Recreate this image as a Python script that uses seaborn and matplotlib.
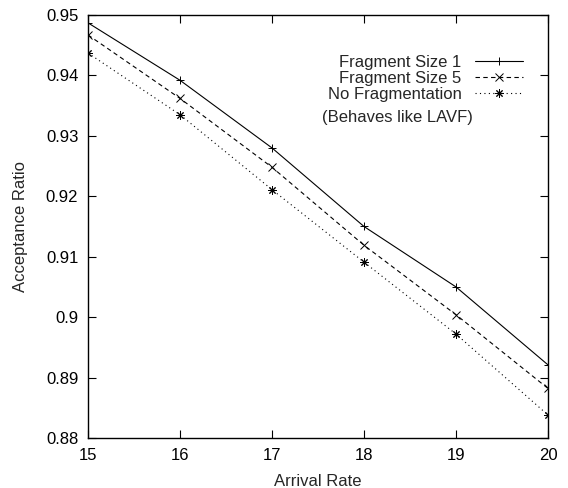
import pandas as pd
import matplotlib
matplotlib.use("Agg")
import matplotlib.pyplot as plt
from matplotlib.ticker import FormatStrFormatter
import seaborn as sns

# data
arrival_rate = [15, 16, 17, 18, 19, 20]
frag_size_1 = [0.9487, 0.9392, 0.9280, 0.9150, 0.9050, 0.8921]
frag_size_5 = [0.9467, 0.9362, 0.9248, 0.9119, 0.9004, 0.8882]
no_frag = [0.9437, 0.9335, 0.9211, 0.9091, 0.8972, 0.8838]
series_names = ["Fragment Size 1", "Fragment Size 5", "No Fragmentation"]

frames = []
for name, vals in zip(series_names, [frag_size_1, frag_size_5, no_frag]):
    frames.append(pd.DataFrame({"rate": arrival_rate, "ratio": vals, "series": name}))
df = pd.concat(frames, ignore_index=True)

sns.set_theme(style="ticks")
plt.rcParams["font.family"] = ["Liberation Sans", "DejaVu Sans"]
plt.rcParams["xtick.direction"] = "in"
plt.rcParams["ytick.direction"] = "in"

fig = plt.figure(figsize=(5.68, 4.88), dpi=100)
# plot box: x 88..548 px, y 15..438 px
ax = fig.add_axes([88 / 568, 1 - 438 / 488, 460 / 568, 423 / 488])

sns.lineplot(data=df, x="rate", y="ratio", hue="series", style="series",
             palette=["black"] * 3,
             dashes=["", (4, 3), (1, 3)],
             markers=["+", "x", (8, 2, 0)],
             markersize=6, markeredgewidth=0.7, markeredgecolor="black",
             linewidth=0.8, ax=ax)

ax.set_xlim(15, 20)
ax.set_ylim(0.88, 0.95)
ax.set_xticks(arrival_rate)
ax.set_yticks([0.88, 0.89, 0.90, 0.91, 0.92, 0.93, 0.94, 0.95])
ax.yaxis.set_major_formatter(FormatStrFormatter("%g"))
ax.tick_params(axis="both", which="major", length=6, width=0.8, labelsize=12,
               top=True, right=True, pad=7, colors="black")
for sp in ax.spines.values():
    sp.set_visible(True)
    sp.set_linewidth(1.0)
    sp.set_color("black")

ax.set_xlabel("Arrival Rate", fontsize=12, labelpad=8)
ax.set_ylabel("Acceptance Ratio", fontsize=12, labelpad=13)

old = ax.get_legend()
handles = old.legend_handles
labels = [t.get_text() for t in old.get_texts()]
old.remove()
ax.legend(handles, labels, loc="upper right", bbox_to_anchor=(0.946, 0.906),
          frameon=False, markerfirst=False, fontsize=12, handlelength=2.9,
          handletextpad=0.8, labelspacing=0.06, borderpad=0, borderaxespad=0)

ax.text(0.837, 0.757, "(Behaves like LAVF)", transform=ax.transAxes,
        ha="right", va="center", fontsize=12)

fig.savefig("out.png", dpi=100)
